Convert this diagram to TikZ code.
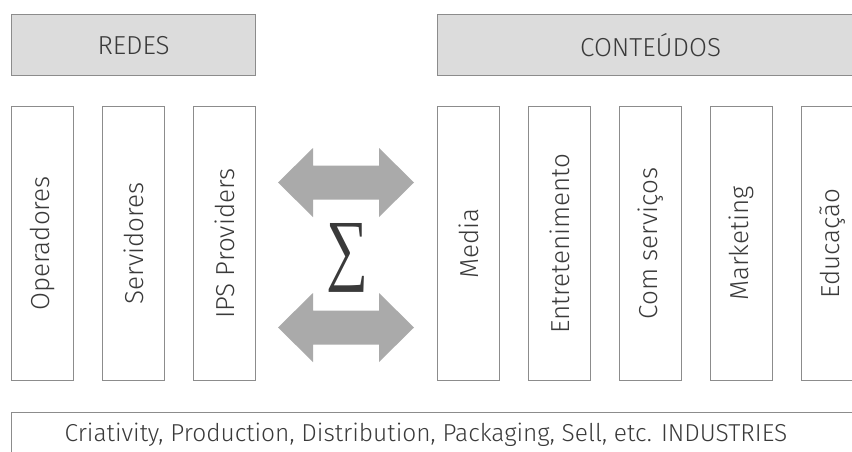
\documentclass[tikz,border=0pt]{standalone}
\usepackage{fontspec}
\setmainfont{Fira Sans}[UprightFont=* Light]
\newfontfamily\sumfont{Liberation Serif}
\usetikzlibrary{positioning}
\definecolor{hdrfill}{HTML}{DCDCDC}
\definecolor{boxline}{HTML}{8C8C8C}
\definecolor{arrowgray}{HTML}{AAAAAA}
\definecolor{txt}{HTML}{3A3A3A}
\tikzset{
  header/.style={draw=boxline, line width=1.2pt, fill=hdrfill, inner sep=0pt,
    minimum height=61pt, anchor=north west},
  headtext/.style={text=txt, font=\fontsize{26}{28}\selectfont},
  column/.style={draw=boxline, line width=1.2pt, fill=white, inner sep=0pt,
    minimum width=62pt, minimum height=274pt, anchor=north west},
  vlabel/.style={rotate=90, text=txt, font=\fontsize{26}{28}\selectfont, inner sep=0pt},
  bigarrow/.style={fill=arrowgray, draw=none},
}
\begin{document}
\begin{tikzpicture}[x=1pt, y=-1pt]
  \useasboundingbox (0,0) rectangle (852,451);
  \clip (0,0) rectangle (852,451);
  \fill[white] (0,0) rectangle (852,451);

  % headers
  \node[header, minimum width=244pt] (redes) at (11,14) {};
  \node[headtext] at (redes.center) {REDES};
  \node[header, minimum width=426pt] (conteudos) at (437,14) {};
  \node[headtext] at (conteudos.center) {CONTEÚDOS};

  % network columns
  \node[column] (op)  at (11,106)  {};
  \node[column] (sv)  at (102,106) {};
  \node[column] (ips) at (193,106) {};
  \node[vlabel] at (op.center)  {Operadores};
  \node[vlabel] at (sv.center)  {Servidores};
  \node[vlabel] at (ips.center) {IPS Providers};

  % content columns
  \node[column] (media) at (437,106) {};
  \node[column] (ent)   at (528,106) {};
  \node[column] (com)   at (619,106) {};
  \node[column] (mkt)   at (710,106) {};
  \node[column] (edu)   at (801,106) {};
  \node[vlabel] at (media.center) {Media};
  \node[vlabel] at (ent.center)   {Entretenimento};
  \node[vlabel] at (com.center)   {Com serviços};
  \node[vlabel] at (mkt.center)   {Marketing};
  \node[vlabel] at (edu.center)   {Educação};

  % double block arrows and the sum sign
  \coordinate (upc) at (346,182.5);
  \coordinate (loc) at (346,327.5);
  \foreach \c in {upc,loc}{
    \fill[bigarrow] ([xshift=-68pt]\c) -- ([xshift=-33pt,yshift=-34.5pt]\c)
      -- ([xshift=-33pt,yshift=-17pt]\c) -- ([xshift=33pt,yshift=-17pt]\c)
      -- ([xshift=33pt,yshift=-34.5pt]\c) -- ([xshift=68pt]\c)
      -- ([xshift=33pt,yshift=34.5pt]\c) -- ([xshift=33pt,yshift=17pt]\c)
      -- ([xshift=-33pt,yshift=17pt]\c) -- ([xshift=-33pt,yshift=34.5pt]\c) -- cycle;
  }
  \node[text=txt, inner sep=0pt] (sigma) at (347,258)
    {\resizebox{42pt}{52pt}{\sumfont ∑}};

  % industries band
  \node[draw=boxline, line width=1.2pt, fill=white, anchor=north west, inner sep=0pt,
    minimum width=880pt, minimum height=80pt] (ind) at (11,412) {};
  \node[text=txt, font=\fontsize{24.5}{26}\selectfont, anchor=base] (indtxt) at (426,441)
    {Criativity, Production, Distribution, Packaging, Sell, etc. INDUSTRIES};
\end{tikzpicture}
\end{document}
